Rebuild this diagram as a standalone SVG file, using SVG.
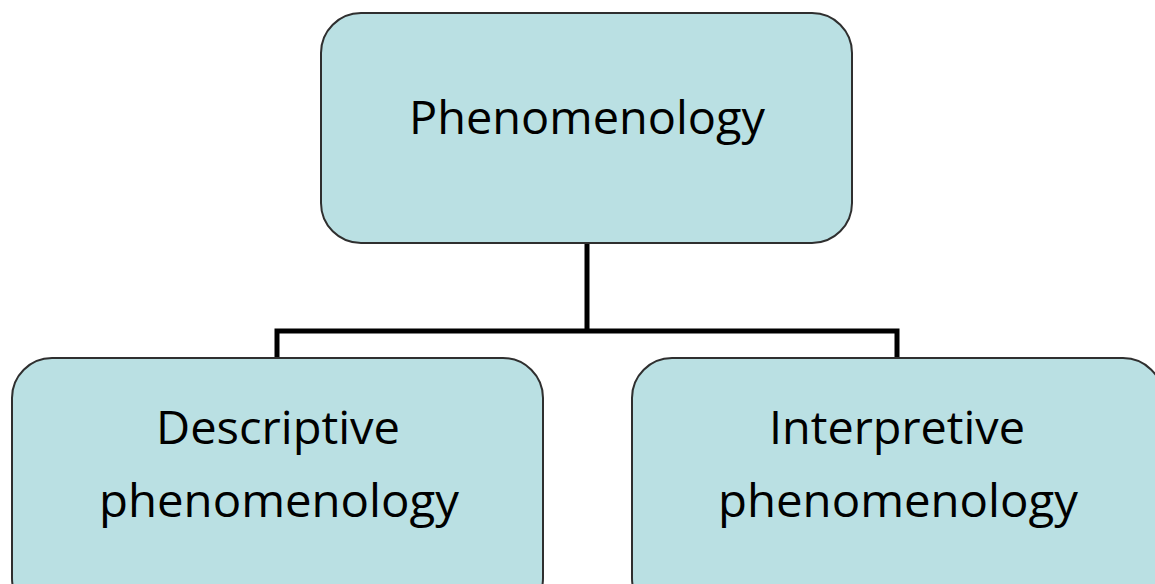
<svg xmlns="http://www.w3.org/2000/svg" width="1155" height="584" viewBox="0 0 1155 584">
<style>
.box{fill:#BAE0E3;stroke:#2f2f2f;stroke-width:2}
.lbl{font-family:"Open Sans","DejaVu Sans",sans-serif;font-size:45px;fill:#000;text-anchor:middle}
.conn{fill:none;stroke:#000;stroke-width:5}
</style>
<rect width="1155" height="584" fill="#fff"/>
<g id="connectors">
<path class="conn" d="M587,243 V331 M277,358 V331 H897 V358"/>
</g>
<g id="phenomenology">
<rect class="box" x="321" y="13" width="531" height="230" rx="40"/>
<text class="lbl" x="587" y="134" textLength="356" lengthAdjust="spacingAndGlyphs">Phenomenology</text>
</g>
<g id="descriptive">
<rect class="box" x="12" y="358" width="531" height="260" rx="40"/>
<text class="lbl" x="278" y="444" textLength="244" lengthAdjust="spacingAndGlyphs">Descriptive</text>
<text class="lbl" x="279" y="517" textLength="360" lengthAdjust="spacingAndGlyphs">phenomenology</text>
</g>
<g id="interpretive">
<rect class="box" x="632" y="358" width="531" height="260" rx="40"/>
<text class="lbl" x="897" y="444" textLength="256" lengthAdjust="spacingAndGlyphs">Interpretive</text>
<text class="lbl" x="898" y="517" textLength="360" lengthAdjust="spacingAndGlyphs">phenomenology</text>
</g>
</svg>
